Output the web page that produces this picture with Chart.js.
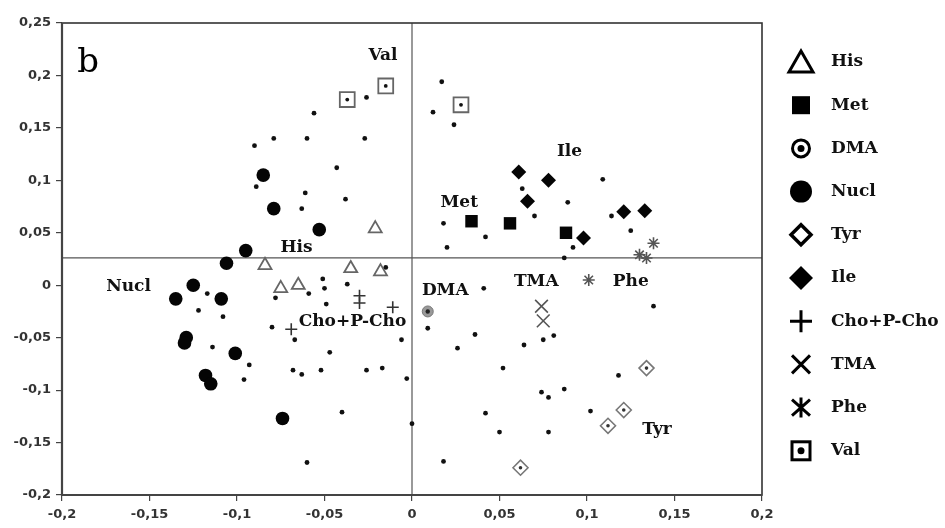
<!DOCTYPE html>
<html>
<head>
<meta charset="utf-8">
<script src="https://cdn.jsdelivr.net/npm/chart.js@4"></script>
<style>
  html, body { margin: 0; padding: 0; background: #fff; }
  #wrap { width: 945px; height: 528px; position: relative; }
</style>
</head>
<body>
<div id="wrap"><canvas id="pca"></canvas></div>
<script>
// axis ticks
const xTickValues = [-0.2, -0.15, -0.1, -0.05, 0, 0.05, 0.1, 0.15, 0.2];
const yTickValues = [-0.2, -0.15, -0.1, -0.05, 0, 0.05, 0.1, 0.15, 0.2, 0.25];

// reference lines
const hLineY = 0.026;
const vLineX = 0;

// all samples (small dots)
const sampleDots = [
    [-0.026, 0.179], [-0.056, 0.164], [-0.090, 0.133], [-0.079, 0.140], [-0.060, 0.140],
    [-0.027, 0.140], [-0.043, 0.112], [-0.089, 0.094], [-0.061, 0.088], [-0.063, 0.073],
    [-0.038, 0.082],
    [-0.117, -0.008], [-0.122, -0.024], [-0.108, -0.030], [-0.114, -0.059], [-0.093, -0.076],
    [-0.096, -0.090], [-0.078, -0.012], [-0.080, -0.040], [-0.067, -0.052], [-0.068, -0.081],
    [-0.063, -0.085], [-0.059, -0.008], [-0.051, 0.006], [-0.050, -0.003], [-0.049, -0.018],
    [-0.047, -0.064], [-0.052, -0.081], [-0.037, 0.001], [-0.026, -0.081], [-0.017, -0.079],
    [-0.006, -0.052], [-0.003, -0.089], [-0.040, -0.121], [-0.060, -0.169], [0.000, -0.132],
    [-0.015, 0.017],
    [0.017, 0.194], [0.012, 0.165], [0.024, 0.153], [0.063, 0.092], [0.089, 0.079],
    [0.109, 0.101], [0.070, 0.066], [0.114, 0.066], [0.125, 0.052], [0.018, 0.059],
    [0.042, 0.046], [0.020, 0.036], [0.092, 0.036], [0.087, 0.026],
    [0.041, -0.003], [0.138, -0.020], [0.009, -0.041], [0.036, -0.047], [0.026, -0.060],
    [0.064, -0.057], [0.075, -0.052], [0.081, -0.048], [0.052, -0.079], [0.118, -0.086],
    [0.074, -0.102], [0.078, -0.107], [0.087, -0.099], [0.042, -0.122], [0.102, -0.120],
    [0.050, -0.140], [0.078, -0.140], [0.018, -0.168]
];

const hisPts = [[-0.021, 0.054], [-0.084, 0.019], [-0.075, -0.003], [-0.065, 0.000], [-0.035, 0.016], [-0.018, 0.013]];
const metPts = [[0.034, 0.061], [0.056, 0.059], [0.088, 0.050]];
const dmaPts = [[0.009, -0.025]];
const nuclPts = [
    [-0.085, 0.105], [-0.079, 0.073], [-0.053, 0.053], [-0.095, 0.033], [-0.106, 0.021],
    [-0.125, 0.000], [-0.135, -0.013], [-0.109, -0.013], [-0.129, -0.050], [-0.130, -0.055],
    [-0.101, -0.065], [-0.118, -0.086], [-0.115, -0.094], [-0.074, -0.127]
];
const tyrPts = [[0.134, -0.079], [0.121, -0.119], [0.112, -0.134], [0.062, -0.174]];
const ilePts = [[0.061, 0.108], [0.078, 0.100], [0.066, 0.080], [0.121, 0.070], [0.133, 0.071], [0.098, 0.045]];
const choPts = [[-0.030, -0.010], [-0.030, -0.017], [-0.011, -0.021], [-0.069, -0.042]];
const tmaPts = [[0.074, -0.020], [0.075, -0.034]];
const phePts = [[0.138, 0.040], [0.130, 0.029], [0.134, 0.026], [0.101, 0.005]];
const valPts = [[-0.037, 0.177], [-0.015, 0.190], [0.028, 0.172]];

// group labels written inside the plot (data coords)
const groupLabels = [
    { text: 'Val', x: -0.0166, y: 0.219 },
    { text: 'His', x: -0.066, y: 0.036 },
    { text: 'Met', x: 0.027, y: 0.079 },
    { text: 'Ile', x: 0.090, y: 0.127 },
    { text: 'Nucl', x: -0.162, y: -0.001 },
    { text: 'Cho+P-Cho', x: -0.034, y: -0.035 },
    { text: 'DMA', x: 0.019, y: -0.005 },
    { text: 'TMA', x: 0.071, y: 0.003 },
    { text: 'Phe', x: 0.125, y: 0.003 },
    { text: 'Tyr', x: 0.140, y: -0.138 }
];
const legendNames = ['His', 'Met', 'DMA', 'Nucl', 'Tyr', 'Ile', 'Cho+P-Cho', 'TMA', 'Phe', 'Val'];

const pts = arr => arr.map(p => ({ x: p[0], y: p[1] }));
const fmt = v => String(Math.round(v * 100) / 100).replace('.', ',');

const none = 'rgba(0,0,0,0)';

const datasets = [
    { label: 'h', data: pts([[-0.2, hLineY], [0.2, hLineY]]), showLine: true, pointRadius: 0,
      borderColor: '#555', borderWidth: 1.2, order: 20 },
    { label: 'v', data: pts([[vLineX, -0.2], [vLineX, 0.25]]), showLine: true, pointRadius: 0,
      borderColor: '#555', borderWidth: 1.2, order: 20 },
    { label: 'samples', data: pts(sampleDots), pointRadius: 2.4, backgroundColor: '#111', borderWidth: 0, order: 6 },
    { label: 'Nucl', data: pts(nuclPts), pointRadius: 6.8, backgroundColor: '#050505', borderWidth: 0, order: 4 },
    { label: 'His', data: pts(hisPts), pointStyle: 'triangle', pointRadius: 7.5, backgroundColor: none,
      borderColor: '#666', borderWidth: 1.8, order: 3 },
    { label: 'Met', data: pts(metPts), pointStyle: 'rect', pointRadius: 8.8, backgroundColor: '#050505', borderWidth: 0, order: 3 },
    { label: 'DMA', data: pts(dmaPts), pointRadius: 5.5, backgroundColor: '#999', borderColor: '#777', borderWidth: 1, order: 3 },
    { label: 'DMAc', data: pts(dmaPts), pointRadius: 2.2, backgroundColor: '#222', borderWidth: 0, order: 1 },
    { label: 'Tyr', data: pts(tyrPts), pointStyle: 'rectRot', pointRadius: 7.5, backgroundColor: none,
      borderColor: '#777', borderWidth: 1.6, order: 3 },
    { label: 'Tyrc', data: pts(tyrPts), pointRadius: 1.8, backgroundColor: '#333', borderWidth: 0, order: 1 },
    { label: 'Ile', data: pts(ilePts), pointStyle: 'rectRot', pointRadius: 7.5, backgroundColor: '#050505', borderWidth: 0, order: 3 },
    { label: 'Cho+P-Cho', data: pts(choPts), pointStyle: 'cross', pointRadius: 6, borderColor: '#333', borderWidth: 1.6, order: 3 },
    { label: 'TMA', data: pts(tmaPts), pointStyle: 'crossRot', pointRadius: 9, borderColor: '#555', borderWidth: 1.6, order: 3 },
    { label: 'Phe', data: pts(phePts), pointStyle: 'star', pointRadius: 6, borderColor: '#555', borderWidth: 1.6, order: 3 },
    { label: 'Val', data: pts(valPts), pointStyle: 'rect', pointRadius: 10.5, backgroundColor: none,
      borderColor: '#666', borderWidth: 1.8, order: 3 },
    { label: 'Valc', data: pts(valPts), pointRadius: 1.9, backgroundColor: '#111', borderWidth: 0, order: 1 }
];

// legend glyphs, drawn by hand on the right side
function legendMark(ctx, name, cx, cy) {
    ctx.fillStyle = '#000';
    ctx.strokeStyle = '#000';
    ctx.lineWidth = 3;
    ctx.beginPath();
    switch (name) {
        case 'His':
            ctx.moveTo(cx, cy - 11); ctx.lineTo(cx + 12, cy + 10); ctx.lineTo(cx - 12, cy + 10); ctx.closePath();
            ctx.stroke();
            break;
        case 'Met':
            ctx.fillRect(cx - 9, cy - 9, 18, 18);
            break;
        case 'DMA':
            ctx.arc(cx, cy, 8.5, 0, Math.PI * 2); ctx.stroke();
            ctx.beginPath(); ctx.arc(cx, cy, 3.5, 0, Math.PI * 2); ctx.fill();
            break;
        case 'Nucl':
            ctx.arc(cx, cy, 11, 0, Math.PI * 2); ctx.fill();
            break;
        case 'Tyr':
            ctx.lineWidth = 3.5;
            ctx.moveTo(cx, cy - 10); ctx.lineTo(cx + 10, cy); ctx.lineTo(cx, cy + 10); ctx.lineTo(cx - 10, cy); ctx.closePath();
            ctx.stroke();
            break;
        case 'Ile':
            ctx.moveTo(cx, cy - 12); ctx.lineTo(cx + 12, cy); ctx.lineTo(cx, cy + 12); ctx.lineTo(cx - 12, cy); ctx.closePath();
            ctx.fill();
            break;
        case 'Cho+P-Cho':
            ctx.moveTo(cx - 11, cy); ctx.lineTo(cx + 11, cy); ctx.moveTo(cx, cy - 11); ctx.lineTo(cx, cy + 11);
            ctx.stroke();
            break;
        case 'TMA':
            ctx.moveTo(cx - 9, cy - 9); ctx.lineTo(cx + 9, cy + 9); ctx.moveTo(cx + 9, cy - 9); ctx.lineTo(cx - 9, cy + 9);
            ctx.stroke();
            break;
        case 'Phe':
            ctx.moveTo(cx - 9, cy - 8); ctx.lineTo(cx + 9, cy + 8); ctx.moveTo(cx + 9, cy - 8); ctx.lineTo(cx - 9, cy + 8);
            ctx.moveTo(cx, cy - 10); ctx.lineTo(cx, cy + 10);
            ctx.stroke();
            break;
        case 'Val':
            ctx.strokeRect(cx - 9, cy - 9, 18, 18);
            ctx.beginPath(); ctx.arc(cx, cy, 3.5, 0, Math.PI * 2); ctx.fill();
            break;
    }
}

const overlay = {
    id: 'overlay',
    afterDatasetsDraw(chart) {
        const { ctx, chartArea: a, scales: { x, y } } = chart;
        ctx.save();
        ctx.strokeStyle = '#333';
        ctx.lineWidth = 1.6;
        ctx.strokeRect(a.left, a.top, a.right - a.left, a.bottom - a.top);
        // heavier left and bottom axes
        ctx.strokeStyle = '#444';
        ctx.lineWidth = 2.2;
        ctx.beginPath();
        ctx.moveTo(a.left, a.top); ctx.lineTo(a.left, a.bottom); ctx.lineTo(a.right, a.bottom);
        ctx.stroke();

        ctx.fillStyle = '#111';
        ctx.textAlign = 'center';
        ctx.textBaseline = 'middle';
        ctx.font = 'bold 17px "DejaVu Serif"';
        groupLabels.forEach(l => ctx.fillText(l.text, x.getPixelForValue(l.x), y.getPixelForValue(l.y)));

        ctx.font = '34px "DejaVu Serif"';
        ctx.fillStyle = '#000';
        ctx.fillText('b', x.getPixelForValue(-0.185), y.getPixelForValue(0.212));

        // legend
        ctx.textAlign = 'left';
        ctx.font = 'bold 17px "DejaVu Serif"';
        legendNames.forEach((name, i) => {
            const cy = 62 + i * 43.2;
            legendMark(ctx, name, 801, cy);
            ctx.fillStyle = '#111';
            ctx.fillText(name, 831, cy);
        });
        ctx.restore();
    }
};

const tickFont = { family: 'DejaVu Sans', weight: 'bold', size: 13 };

new Chart(document.getElementById('pca'), {
    type: 'scatter',
    data: { datasets },
    options: {
        responsive: true,
        maintainAspectRatio: false,
        animation: false,
        events: [],
        layout: { padding: { top: 23, right: 183, left: 0, bottom: 0 } },
        plugins: { legend: { display: false }, tooltip: { enabled: false } },
        scales: {
            x: {
                min: -0.2, max: 0.2,
                afterBuildTicks: s => { s.ticks = xTickValues.map(v => ({ value: v })); },
                afterFit: s => { s.height = 33; },
                grid: { drawOnChartArea: false, drawTicks: true, tickLength: 6, color: '#444', lineWidth: 1.2 },
                border: { display: false },
                ticks: { color: '#333', font: tickFont, padding: 6, maxRotation: 0, autoSkip: false,
                         callback: v => fmt(v) }
            },
            y: {
                min: -0.2, max: 0.25,
                afterBuildTicks: s => { s.ticks = yTickValues.map(v => ({ value: v })); },
                afterFit: s => { s.width = 62; },
                grid: { drawOnChartArea: false, drawTicks: true, tickLength: 6, color: '#444', lineWidth: 1.2 },
                border: { display: false },
                ticks: { color: '#333', font: tickFont, padding: 5, autoSkip: false,
                         callback: v => fmt(v) }
            }
        }
    },
    plugins: [overlay]
});
</script>
</body>
</html>
